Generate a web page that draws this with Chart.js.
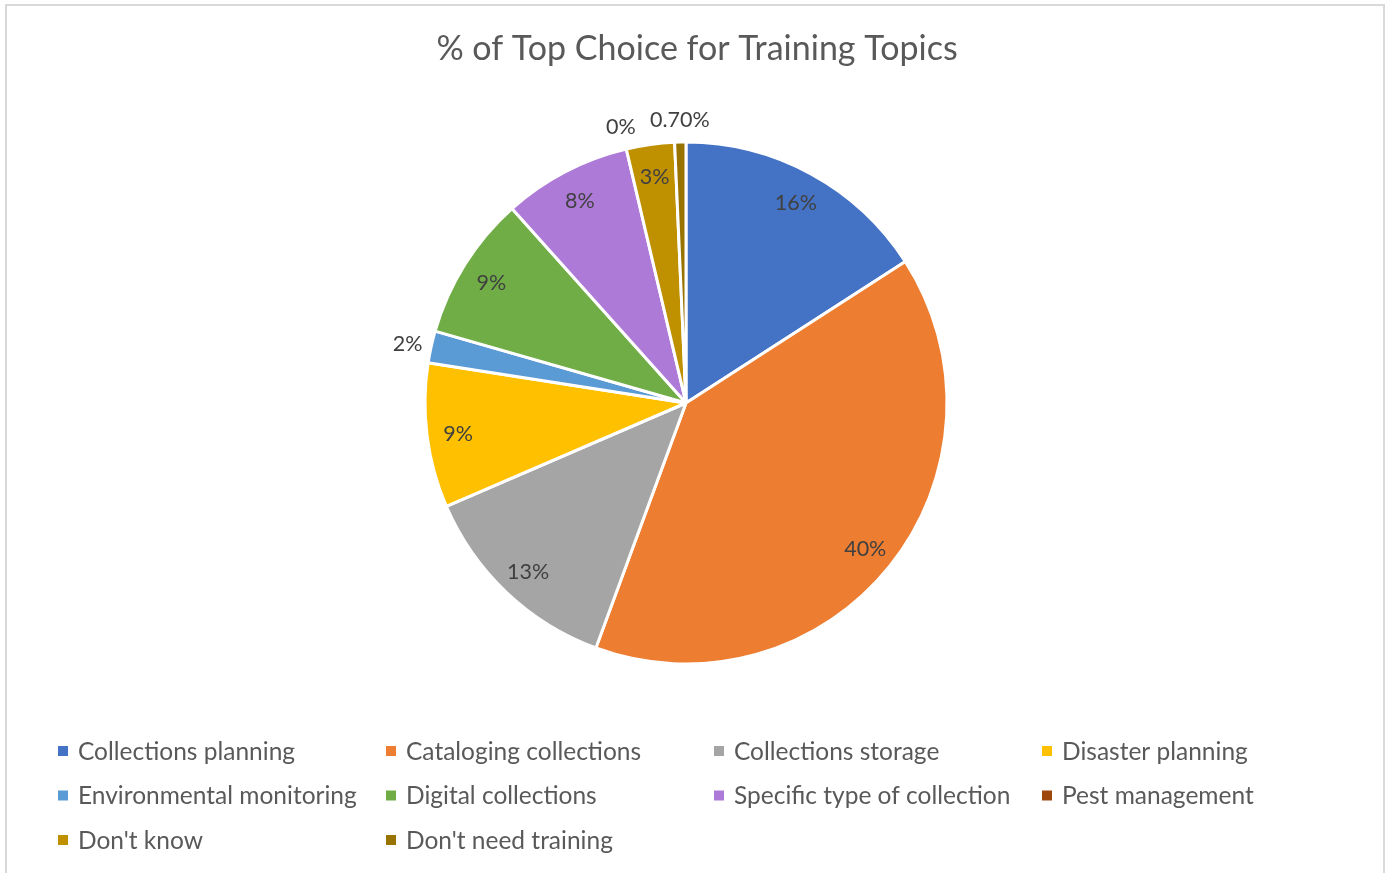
<!DOCTYPE html>
<html>
<head>
<meta charset="utf-8">
<script src="https://cdn.jsdelivr.net/npm/chart.js@4/dist/chart.umd.min.js"></script>
<style>
  html, body { margin: 0; padding: 0; background: #ffffff; }
  body { width: 1392px; height: 873px; overflow: hidden; position: relative; }
  #frame { position: absolute; left: 5px; top: 4px; width: 1380px; height: 900px; border: 2px solid #d9d9d9; box-sizing: border-box; pointer-events: none; }
  #wrap { position: absolute; left: 0; top: 0; width: 1392px; height: 873px; }
</style>
</head>
<body>
<div id="wrap"><canvas id="chart" width="1392" height="873"></canvas></div>
<div id="frame"></div>
<script>
// Survey: share of respondents naming each topic as their top training choice
const chartTitle = '% of Top Choice for Training Topics';
const categories = [
  'Collections planning',
  'Cataloging collections',
  'Collections storage',
  'Disaster planning',
  'Environmental monitoring',
  'Digital collections',
  'Specific type of collection',
  'Pest management',
  "Don't know",
  "Don't need training"
];
const percentValues = [16, 40, 13, 9, 2, 9, 8, 0, 3, 0.7];
const sliceColors = [
  '#4472C4', '#ED7D31', '#A5A5A5', '#FFC000', '#5B9BD5',
  '#70AD47', '#AE7AD8', '#9E480E', '#BF9000', '#997300'
];

const FONT = 'Lato, "Open Sans", sans-serif';
const TEXT_GREY = '#595959';
const LABEL_GREY = '#404040';

function formatPct(v) {
  return (v % 1 !== 0 ? v.toFixed(2) : String(v)) + '%';
}

// Title centred across the whole frame
const frameTitle = {
  id: 'frameTitle',
  afterDraw(chart) {
    const ctx = chart.ctx;
    ctx.save();
    ctx.font = '34px ' + FONT;
    ctx.fillStyle = TEXT_GREY;
    ctx.textAlign = 'center';
    ctx.textBaseline = 'alphabetic';
    ctx.fillText(chartTitle, chart.width / 2 + 1, 60);
    ctx.restore();
  }
};

// Percentage labels: inside the slice for larger shares, just outside for small ones
const sliceLabels = {
  id: 'sliceLabels',
  afterDatasetsDraw(chart) {
    const ctx = chart.ctx;
    const meta = chart.getDatasetMeta(0);
    const vals = chart.data.datasets[0].data;
    ctx.save();
    ctx.font = '21.5px ' + FONT;
    ctx.fillStyle = LABEL_GREY;
    ctx.textAlign = 'center';
    ctx.textBaseline = 'middle';
    meta.data.forEach((arc, i) => {
      const p = arc.getProps(['x', 'y', 'startAngle', 'endAngle', 'outerRadius'], true);
      const mid = (p.startAngle + p.endAngle) / 2;
      const v = vals[i];
      const d = v >= 3 ? p.outerRadius * 0.88 : p.outerRadius + 24;
      ctx.fillText(formatPct(v), p.x + Math.cos(mid) * d, p.y + Math.sin(mid) * d + 2);
    });
    ctx.restore();
  }
};

// Legend laid out as a four-column grid under the pie
const gridLegend = {
  id: 'gridLegend',
  afterDraw(chart) {
    const ctx = chart.ctx;
    const cols = 4, colW = 328, x0 = 58, y0 = 751, rowH = 44.5, box = 10;
    ctx.save();
    ctx.font = '24.5px ' + FONT;
    ctx.textBaseline = 'middle';
    ctx.textAlign = 'left';
    categories.forEach((name, i) => {
      const x = x0 + (i % cols) * colW;
      const y = y0 + Math.floor(i / cols) * rowH;
      ctx.fillStyle = sliceColors[i];
      ctx.fillRect(x, y - box / 2, box, box);
      ctx.fillStyle = TEXT_GREY;
      ctx.fillText(name, x + 20, y + 1);
    });
    ctx.restore();
  }
};

Chart.defaults.font.family = FONT;

new Chart(document.getElementById('chart'), {
  type: 'pie',
  data: {
    labels: categories,
    datasets: [{
      data: percentValues,
      backgroundColor: sliceColors,
      borderColor: '#ffffff',
      borderWidth: 3,
      radius: 261
    }]
  },
  options: {
    responsive: false,
    animation: false,
    layout: { padding: { top: 0, left: 0, right: 20, bottom: 67 } },
    plugins: {
      legend: { display: false },
      tooltip: { enabled: false },
      title: { display: false }
    }
  },
  plugins: [sliceLabels, gridLegend, frameTitle]
});
</script>
</body>
</html>
